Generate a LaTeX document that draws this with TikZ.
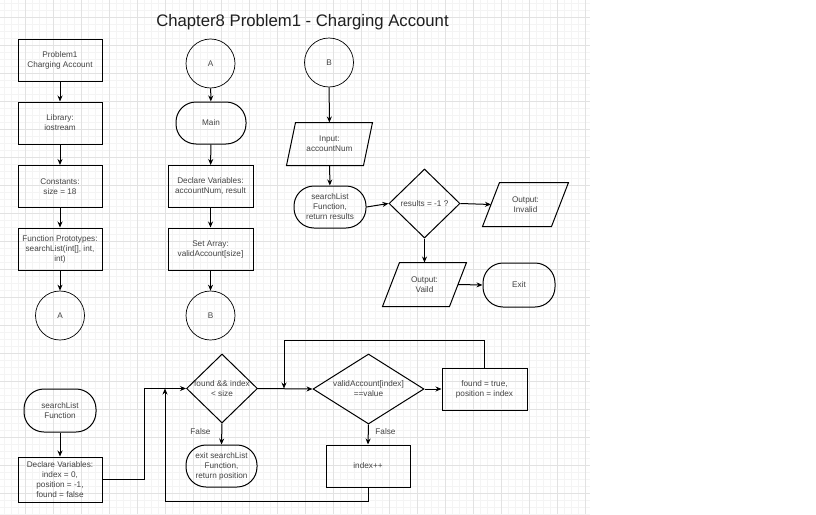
\documentclass[tikz,border=0pt]{standalone}
\usepackage{fontspec}
\setmainfont{Liberation Sans}
\usetikzlibrary{shapes.geometric,arrows.meta}
\definecolor{gridmaj}{HTML}{E2E2E2}
\definecolor{gridmin}{HTML}{F4F4F4}
\definecolor{txt}{HTML}{444444}
\begin{document}
\begin{tikzpicture}[x=1pt,y=-1pt,
 base/.style={draw=black, line width=1pt, text=txt, font=\fontsize{8.2}{10}\selectfont, align=center, inner sep=0pt},
 procbox/.style={base, rectangle, minimum width=84pt, minimum height=42pt},
 termbox/.style={base, rectangle, rounded corners=20pt, minimum width=72pt, minimum height=42pt},
 connbox/.style={base, circle, line width=0.7pt, minimum size=49pt},
 decbox/.style={base, diamond, minimum width=71pt, minimum height=69pt},
 iobox/.style={base, draw=none, rectangle, minimum height=42pt},
 flow/.style={line width=1pt, -{Stealth[length=6pt,width=5pt]}},
 lbl/.style={text=txt, font=\fontsize{8.2}{10}\selectfont, align=center, inner sep=0pt}
]
\useasboundingbox (0,0) rectangle (816,514);
\fill[white] (0,0) rectangle (816,514);
% grid
\foreach \x in {4,11,...,590} \draw[gridmin, line width=0.5pt] (\x,0) -- (\x,514);
\foreach \y in {3,10,...,514} \draw[gridmin, line width=0.5pt] (0,\y) -- (590,\y);
\foreach \x in {25,53,...,590} \draw[gridmaj, line width=0.6pt] (\x,0) -- (\x,514);
\foreach \y in {17,45,...,514} \draw[gridmaj, line width=0.6pt] (0,\y) -- (590,\y);

% title
\node[font=\fontsize{16.7}{20}\selectfont, text=black!88, inner sep=0pt] (title) at (302.5,22.5) {Chapter8 Problem1 - Charging Account};

% left column
\node[procbox] (p1) at (60,60) {Problem1\\Charging Account};
\node[procbox] (lib) at (60,123) {Library:\\iostream};
\node[procbox] (cons) at (60,186.5) {Constants:\\size = 18};
\node[procbox] (proto) at (60,249) {Function Prototypes:\\searchList(int[], int,\\int)};
\node[connbox] (cA1) at (60,315.5) {A};

% middle column
\node[connbox] (cA2) at (210.5,63.5) {A};
\node[termbox, minimum width=70pt] (main) at (211,123) {Main};
\node[procbox, minimum width=85pt] (decl) at (210.5,186.5) {Declare Variables:\\accountNum, result};
\node[procbox, minimum width=85pt] (arr) at (210.5,249) {Set Array:\\validAccount[size]};
\node[connbox] (cB1) at (210.5,315.5) {B};

% right column
\node[connbox] (cB2) at (329,62.5) {B};
\node[iobox, minimum width=76pt] (inp) at (329.5,144) {Input:\\accountNum};
\draw[line width=1pt] ([xshift=4.5pt]inp.north west) -- ([xshift=4.5pt]inp.north east) -- ([xshift=-4.5pt]inp.south east) -- ([xshift=-4.5pt]inp.south west) -- cycle;
\node[termbox] (sl) at (330,207) {searchList\\Function,\\return results};
\node[decbox, label={[lbl]center:{results = -1 ?}}] (d0) at (424.5,203.5) {};
\node[iobox, minimum width=68pt, minimum height=43pt] (inv) at (525.5,204.5) {Output:\\Invalid};
\draw[line width=1pt] ([xshift=8.5pt]inv.north west) -- ([xshift=8.5pt]inv.north east) -- ([xshift=-8.5pt]inv.south east) -- ([xshift=-8.5pt]inv.south west) -- cycle;
\node[iobox, minimum width=66pt, minimum height=43pt] (vai) at (424.5,284.5) {Output:\\Vaild};
\draw[line width=1pt] ([xshift=8.5pt]vai.north west) -- ([xshift=8.5pt]vai.north east) -- ([xshift=-8.5pt]vai.south east) -- ([xshift=-8.5pt]vai.south west) -- cycle;
\node[termbox, minimum height=44pt] (exit) at (519,285) {Exit};

% bottom part
\node[termbox, minimum height=43pt] (slf) at (60,410.5) {searchList\\Function};
\node[procbox, minimum height=45pt] (dv) at (60,479.5) {Declare Variables:\\index = 0,\\position = -1,\\found = false};
\node[decbox, label={[lbl]center:{found \&\& index\\< size}}] (d1) at (222,388.5) {};
\node[termbox, minimum width=71pt] (exs) at (221.5,466) {exit searchList\\Function,\\return position};
\node[decbox, minimum width=111pt, minimum height=70pt, label={[lbl]center:{validAccount[index]\\==value}}] (d2) at (368.5,389) {};
\node[procbox, minimum width=85pt] (fnd) at (484.5,389) {found = true,\\position = index};
\node[procbox] (inc) at (368,466) {index++};
\node[lbl] (f1) at (200.5,432) {False};
\node[lbl] (f2) at (385.5,432) {False};

% connectors
\draw[flow] (p1) -- (lib);
\draw[flow] (lib) -- (cons);
\draw[flow] (cons) -- (proto);
\draw[flow] (proto) -- (cA1);
\draw[flow] (cA2) -- (main);
\draw[flow] (main) -- (decl);
\draw[flow] (decl) -- (arr);
\draw[flow] (arr) -- (cB1);
\draw[flow] (cB2) -- (inp);
\draw[flow] (inp) -- (sl);
\draw[flow] (sl.east) -- (d0.west);
\draw[flow] (d0.east) -- (inv.west);
\draw[flow] (d0.south) -- (vai.north);
\draw[flow] (vai.east) -- (exit.west);
\draw[flow] (slf) -- (dv);
\coordinate (j1) at (144,388.5);
\draw[flow] (dv.east) -| (j1) -- (d1.west);
\draw[flow] (d1.south) -- (exs.north);
\draw[flow] (d1.east) -- (d2.west);
\draw[flow] (d2.east) -- (fnd.west);
\draw[flow] (d2.south) -- (inc.north);
\coordinate (t1) at (284,340);
\coordinate (m1) at (284,388.5);
\draw[flow] (fnd.north) |- (t1) -- (m1);
\coordinate (b1) at (165,501);
\coordinate (m2) at (165,388.5);
\draw[flow] (inc.south) |- (b1) -- (m2);
\end{tikzpicture}
\end{document}
